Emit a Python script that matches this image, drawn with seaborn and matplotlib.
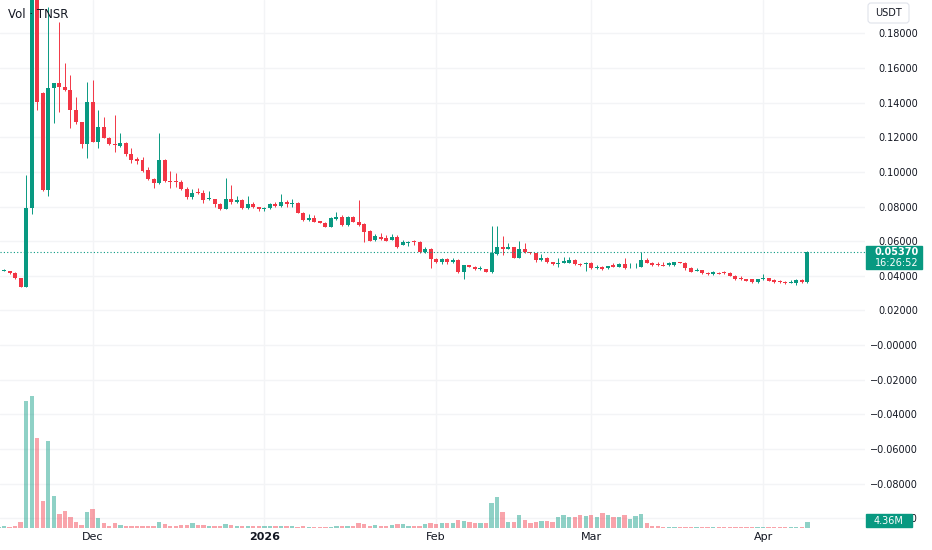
import numpy as np
import pandas as pd
import matplotlib
matplotlib.use("Agg")
import matplotlib.pyplot as plt
import seaborn as sns
from matplotlib.patches import Rectangle, FancyBboxPatch

# daily TNSR / USDT candles, 14 Nov 2025 .. 9 Apr 2026
dates = pd.date_range("2025-11-14", "2026-04-09", freq="D")

opens = [
    0.0439, 0.0430, 0.0427, 0.0416, 0.0387, 0.0335, 0.0791, 0.2051, 0.1456, 0.0895,
    0.1485, 0.1514, 0.1490, 0.1473, 0.1358, 0.1288, 0.1161, 0.1404, 0.1173, 0.1259,
    0.1196, 0.1161, 0.1150, 0.1167, 0.1103, 0.1075, 0.1069, 0.1011, 0.0959, 0.0936,
    0.1069, 0.0947, 0.0947, 0.0942, 0.0901, 0.0855, 0.0884, 0.0878, 0.0843, 0.0843,
    0.0815, 0.0786, 0.0843, 0.0826, 0.0838, 0.0791, 0.0815, 0.0797, 0.0786, 0.0791,
    0.0815, 0.0803, 0.0826, 0.0815, 0.0820, 0.0763, 0.0722, 0.0734, 0.0716, 0.0705,
    0.0682, 0.0728, 0.0739, 0.0693, 0.0739, 0.0711, 0.0699, 0.0659, 0.0607, 0.0624,
    0.0618, 0.0607, 0.0624, 0.0578, 0.0592, 0.0601, 0.0595, 0.0537, 0.0555, 0.0497,
    0.0479, 0.0497, 0.0479, 0.0491, 0.0422, 0.0462, 0.0451, 0.0439, 0.0439, 0.0422,
    0.0526, 0.0566, 0.0555, 0.0566, 0.0503, 0.0555, 0.0537, 0.0531, 0.0491, 0.0503,
    0.0479, 0.0468, 0.0474, 0.0474, 0.0491, 0.0468, 0.0468, 0.0474, 0.0445, 0.0451,
    0.0445, 0.0462, 0.0451, 0.0468, 0.0448, 0.0448, 0.0451, 0.0491, 0.0474, 0.0468,
    0.0462, 0.0462, 0.0462, 0.0479, 0.0474, 0.0445, 0.0430, 0.0433, 0.0416, 0.0410,
    0.0416, 0.0422, 0.0416, 0.0399, 0.0387, 0.0381, 0.0381, 0.0364, 0.0381, 0.0387,
    0.0376, 0.0370, 0.0364, 0.0361, 0.0358, 0.0376, 0.0364,
]
highs = [
    0.0453, 0.0438, 0.0430, 0.0420, 0.0390, 0.0982, 0.2300, 0.2150, 0.1460, 0.1953,
    0.1514, 0.1866, 0.1629, 0.1560, 0.1433, 0.1290, 0.1519, 0.1531, 0.1358, 0.1317,
    0.1199, 0.1329, 0.1225, 0.1170, 0.1138, 0.1086, 0.1086, 0.1028, 0.0962, 0.1225,
    0.1072, 0.1005, 0.0994, 0.0953, 0.0913, 0.0901, 0.0907, 0.0895, 0.0890, 0.0846,
    0.0820, 0.0965, 0.0924, 0.0861, 0.0843, 0.0861, 0.0826, 0.0800, 0.0795, 0.0820,
    0.0826, 0.0872, 0.0838, 0.0843, 0.0826, 0.0766, 0.0757, 0.0751, 0.0719, 0.0708,
    0.0739, 0.0768, 0.0751, 0.0745, 0.0745, 0.0838, 0.0702, 0.0662, 0.0641, 0.0647,
    0.0635, 0.0641, 0.0635, 0.0607, 0.0598, 0.0604, 0.0598, 0.0566, 0.0558, 0.0500,
    0.0500, 0.0500, 0.0503, 0.0494, 0.0465, 0.0465, 0.0454, 0.0456, 0.0442, 0.0687,
    0.0687, 0.0630, 0.0589, 0.0569, 0.0601, 0.0589, 0.0540, 0.0534, 0.0526, 0.0506,
    0.0482, 0.0503, 0.0508, 0.0508, 0.0494, 0.0471, 0.0477, 0.0477, 0.0462, 0.0454,
    0.0459, 0.0474, 0.0471, 0.0503, 0.0474, 0.0474, 0.0537, 0.0503, 0.0477, 0.0479,
    0.0479, 0.0479, 0.0482, 0.0482, 0.0477, 0.0448, 0.0445, 0.0436, 0.0419, 0.0427,
    0.0419, 0.0425, 0.0419, 0.0402, 0.0399, 0.0384, 0.0384, 0.0384, 0.0410, 0.0390,
    0.0379, 0.0373, 0.0367, 0.0376, 0.0379, 0.0379, 0.0543,
]
lows = [
    0.0437, 0.0428, 0.0413, 0.0382, 0.0333, 0.0333, 0.0757, 0.1358, 0.0890, 0.0861,
    0.1283, 0.1346, 0.1468, 0.1254, 0.1277, 0.1138, 0.1080, 0.1170, 0.1138, 0.1193,
    0.1155, 0.1115, 0.1144, 0.1092, 0.1051, 0.1046, 0.0999, 0.0956, 0.0907, 0.0933,
    0.0944, 0.0907, 0.0913, 0.0895, 0.0843, 0.0843, 0.0872, 0.0820, 0.0838, 0.0797,
    0.0780, 0.0783, 0.0815, 0.0820, 0.0788, 0.0788, 0.0791, 0.0774, 0.0774, 0.0788,
    0.0800, 0.0797, 0.0797, 0.0797, 0.0760, 0.0718, 0.0719, 0.0708, 0.0702, 0.0679,
    0.0679, 0.0722, 0.0687, 0.0690, 0.0708, 0.0690, 0.0595, 0.0598, 0.0601, 0.0609,
    0.0598, 0.0604, 0.0560, 0.0575, 0.0572, 0.0578, 0.0534, 0.0534, 0.0445, 0.0476,
    0.0468, 0.0468, 0.0476, 0.0416, 0.0381, 0.0448, 0.0436, 0.0433, 0.0419, 0.0416,
    0.0520, 0.0520, 0.0552, 0.0500, 0.0500, 0.0534, 0.0528, 0.0479, 0.0488, 0.0476,
    0.0462, 0.0451, 0.0471, 0.0471, 0.0465, 0.0459, 0.0427, 0.0442, 0.0442, 0.0436,
    0.0442, 0.0448, 0.0448, 0.0442, 0.0445, 0.0445, 0.0448, 0.0471, 0.0459, 0.0459,
    0.0456, 0.0459, 0.0459, 0.0471, 0.0433, 0.0419, 0.0427, 0.0413, 0.0407, 0.0407,
    0.0410, 0.0413, 0.0396, 0.0378, 0.0378, 0.0367, 0.0361, 0.0361, 0.0378, 0.0367,
    0.0361, 0.0361, 0.0355, 0.0358, 0.0347, 0.0361, 0.0361,
]
closes = [
    0.0451, 0.0434, 0.0416, 0.0387, 0.0335, 0.0791, 0.2051, 0.1404, 0.0895, 0.1485,
    0.1514, 0.1490, 0.1473, 0.1358, 0.1288, 0.1161, 0.1404, 0.1173, 0.1259, 0.1196,
    0.1161, 0.1158, 0.1167, 0.1103, 0.1069, 0.1063, 0.1005, 0.0959, 0.0936, 0.1069,
    0.0947, 0.0942, 0.0942, 0.0901, 0.0855, 0.0878, 0.0878, 0.0838, 0.0849, 0.0815,
    0.0786, 0.0843, 0.0826, 0.0838, 0.0791, 0.0815, 0.0797, 0.0786, 0.0791, 0.0815,
    0.0803, 0.0826, 0.0815, 0.0820, 0.0763, 0.0722, 0.0734, 0.0711, 0.0705, 0.0682,
    0.0734, 0.0739, 0.0693, 0.0739, 0.0711, 0.0693, 0.0653, 0.0601, 0.0630, 0.0612,
    0.0601, 0.0624, 0.0566, 0.0595, 0.0595, 0.0595, 0.0537, 0.0555, 0.0497, 0.0479,
    0.0497, 0.0479, 0.0491, 0.0422, 0.0462, 0.0451, 0.0439, 0.0445, 0.0422, 0.0531,
    0.0566, 0.0555, 0.0566, 0.0503, 0.0555, 0.0537, 0.0531, 0.0491, 0.0503, 0.0479,
    0.0468, 0.0474, 0.0485, 0.0491, 0.0468, 0.0462, 0.0474, 0.0445, 0.0451, 0.0439,
    0.0456, 0.0451, 0.0468, 0.0445, 0.0451, 0.0451, 0.0491, 0.0474, 0.0462, 0.0462,
    0.0459, 0.0474, 0.0479, 0.0474, 0.0445, 0.0422, 0.0433, 0.0416, 0.0410, 0.0422,
    0.0413, 0.0416, 0.0399, 0.0381, 0.0381, 0.0370, 0.0364, 0.0381, 0.0387, 0.0370,
    0.0364, 0.0364, 0.0358, 0.0364, 0.0376, 0.0364, 0.0537,
]
# volume in millions
volumes = [
    1.0, 1.2, 0.9, 1.2, 3.9, 87.6, 91.1, 62.1, 18.6, 60.0,
    22.1, 9.7, 11.7, 7.6, 4.1, 2.3, 11.0, 13.1, 6.9, 3.2,
    1.2, 3.2, 2.1, 1.2, 1.2, 1.6, 1.2, 1.2, 1.2, 4.3,
    2.8, 1.6, 1.6, 2.1, 2.3, 3.2, 2.1, 2.1, 1.6, 1.6,
    1.6, 2.8, 2.1, 1.6, 1.6, 1.6, 1.6, 1.2, 1.2, 1.2,
    1.2, 1.6, 1.2, 1.6, 0.9, 1.6, 0.9, 0.9, 0.9, 0.9,
    0.9, 1.6, 1.6, 1.6, 1.6, 3.2, 2.8, 1.6, 2.1, 1.6,
    1.6, 2.1, 2.8, 2.6, 1.6, 1.6, 1.6, 2.6, 3.7, 2.8,
    3.2, 3.2, 3.7, 5.7, 5.0, 4.3, 3.7, 3.7, 3.7, 17.3,
    21.6, 11.2, 4.3, 4.3, 8.8, 5.7, 3.7, 4.1, 4.8, 4.8,
    4.3, 7.8, 8.8, 7.4, 7.8, 8.8, 8.3, 8.8, 7.8, 10.1,
    9.2, 7.4, 7.4, 8.8, 6.4, 8.3, 9.7, 3.2, 1.2, 1.6,
    0.9, 0.9, 0.9, 0.9, 0.9, 0.9, 0.9, 0.9, 0.9, 0.9,
    0.9, 0.9, 0.9, 0.9, 0.9, 0.9, 0.9, 0.9, 0.9, 0.9,
    0.9, 0.9, 0.9, 0.9, 0.9, 0.9, 4.36,
]

price_ticks = [-0.10, -0.08, -0.06, -0.04, -0.02, 0.0, 0.02, 0.04, 0.06,
               0.08, 0.10, 0.12, 0.14, 0.16, 0.18]
price_labels = ["\u22120.10000", "\u22120.08000", "\u22120.06000", "\u22120.04000",
                "\u22120.02000", "\u22120.00000", "0.02000", "0.04000", "0.06000",
                "0.08000", "0.10000", "0.12000", "0.14000", "0.16000", "0.18000"]
month_labels = ["Dec", "2026", "Feb", "Mar", "Apr"]

UP = "#089981"
DOWN = "#F23645"
TEXT = "#131722"
GRID = "#F3F4F6"

sns.set_theme(style="white")
plt.rcParams["font.family"] = ["DejaVu Sans"]

x = np.arange(len(dates))
o = np.array(opens)
c = np.array(closes)
is_up = c >= o
colors = np.where(is_up, UP, DOWN)

W, H = 932, 550
fig = plt.figure(figsize=(W / 100, H / 100), dpi=100)
ax = fig.add_axes([0, 22 / H, 865 / W, 528 / H])
axv = ax.twinx()

# volume bars
vol_df = pd.DataFrame({"x": x, "vol": volumes, "dir": np.where(is_up, "up", "down")})
sns.barplot(data=vol_df, x="x", y="vol", hue="dir", palette={"up": UP, "down": DOWN},
            native_scale=True, dodge=False, width=0.78, errorbar=None, saturation=1,
            alpha=0.45, legend=False, linewidth=0, ax=axv)
axv.set_ylim(0, 364)
axv.set_yticks([])
axv.set_xlabel("")
axv.set_ylabel("")
axv.xaxis.set_visible(False)

# candles
ax.vlines(x, lows, highs, colors=colors, linewidth=0.7)
ax.bar(x, np.maximum(np.abs(c - o), 0.0004), bottom=np.minimum(o, c),
       width=0.72, color=colors, linewidth=0)
ax.axhline(closes[-1], color=UP, lw=0.8, ls=(0, (1, 2)))

ax.set_xlim(0.28, 156.4)
ax.set_ylim(-0.1057, 0.1993)

ax.yaxis.tick_right()
ax.set_yticks(price_ticks)
ax.set_yticklabels(price_labels, ha="right")
ax.tick_params(axis="y", length=0, pad=38.2, labelsize=7, labelcolor=TEXT)

month_pos = x[dates.day == 1]
ax.set_xticks(month_pos)
ax.set_xticklabels(month_labels)
ax.tick_params(axis="x", length=0, pad=3, labelsize=8, labelcolor=TEXT)
for lbl in ax.get_xticklabels():
    if lbl.get_text() == "2026":
        lbl.set_fontweight("bold")

ax.grid(True, color=GRID, lw=1)
ax.set_axisbelow(True)
for a in (ax, axv):
    for s in a.spines.values():
        s.set_visible(False)

fig.text(8 / W, 1 - 14 / H, "Vol \u00b7 TNSR", fontsize=8.5, color=TEXT, va="center")

# currency box
fig.patches.append(FancyBboxPatch((8.68, (H - 23) / 100), 0.41, 0.20,
                                  boxstyle="round,pad=0,rounding_size=0.03",
                                  transform=fig.dpi_scale_trans, fc="white",
                                  ec="#E0E3EB", lw=0.8))
fig.text(8.885, (H - 13) / 100, "USDT", transform=fig.dpi_scale_trans,
         ha="center", va="center", fontsize=7, color=TEXT)

# last price label
fig.patches.append(Rectangle((866 / W, 1 - 269 / H), 56 / W, 23 / H,
                             transform=fig.transFigure, color=UP))
fig.text(919 / W, 1 - 252 / H, f"{closes[-1]:.5f}", ha="right", va="center",
         fontsize=7, color="white", fontweight="bold")
fig.text(919 / W, 1 - 263 / H, "16:26:52", ha="right", va="center",
         fontsize=7, color="white")

# last volume label
fig.patches.append(Rectangle((866 / W, 1 - 527 / H), 46 / W, 13 / H,
                             transform=fig.transFigure, color=UP))
fig.text(889 / W, 1 - 520.5 / H, f"{volumes[-1]:.2f}M", ha="center", va="center",
         fontsize=7, color="white")

fig.savefig("out.png", dpi=100)
